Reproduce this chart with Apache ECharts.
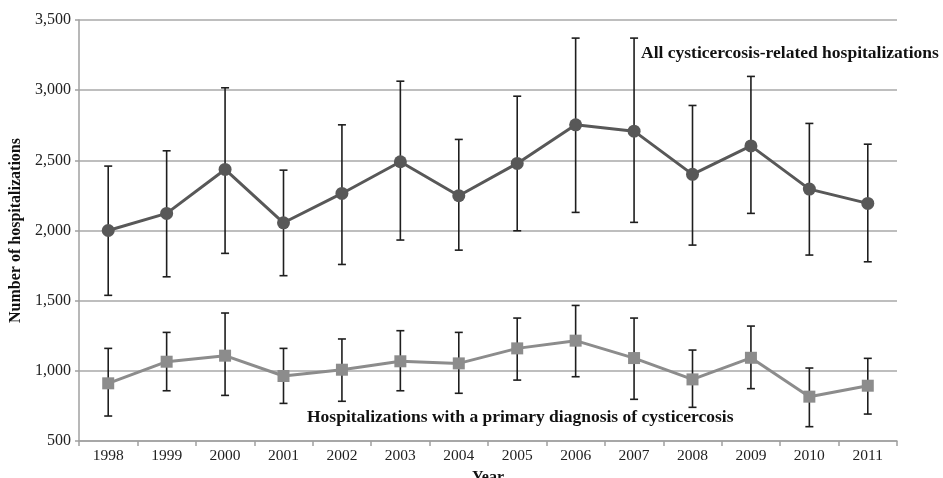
<!DOCTYPE html>
<html>
<head>
<meta charset="utf-8">
<script src="https://cdn.jsdelivr.net/npm/echarts@6/dist/echarts.min.js"></script>
<style>html,body{margin:0;padding:0;background:#fff}#c{width:943px;height:478px}</style>
</head>
<body>
<div id="c"></div>
<script>
var years = ['1998','1999','2000','2001','2002','2003','2004','2005','2006','2007','2008','2009','2010','2011'];
var allValues = [2000, 2122, 2435, 2055, 2264, 2490, 2248, 2478, 2753, 2708, 2400, 2603, 2295, 2193];
var allLow    = [1538, 1670, 1837, 1678, 1758, 1932, 1860, 1998, 2129, 2058, 1896, 2122, 1825, 1777];
var allHigh   = [2459, 2568, 3017, 2430, 2753, 3064, 2649, 2957, 3371, 3371, 2891, 3098, 2763, 2615];
var primValues = [911, 1065, 1108, 963, 1008, 1068, 1053, 1160, 1215, 1091, 939, 1093, 816, 894];
var primLow    = [678, 858, 825, 768, 783, 858, 840, 934, 958, 797, 740, 873, 602, 692];
var primHigh   = [1160, 1274, 1412, 1160, 1227, 1286, 1274, 1376, 1466, 1376, 1148, 1319, 1020, 1089];
var yTicks = [500, 1000, 1500, 2000, 2500, 3000, 3500];
var allLabel = 'All cysticercosis-related hospitalizations';
var primLabel = 'Hospitalizations with a primary diagnosis of cysticercosis';

var FONT = '"Liberation Serif", "Times New Roman", serif';

function errData(lo, hi) {
  return lo.map(function (v, i) { return [i, v, hi[i]]; });
}
function errRender(params, api) {
  var x = api.value(0);
  var lo = api.coord([x, api.value(1)]);
  var hi = api.coord([x, api.value(2)]);
  var hw = 4;
  var st = { stroke: '#1e1e1e', lineWidth: 1.6 };
  return {
    type: 'group',
    children: [
      { type: 'line', shape: { x1: lo[0], y1: lo[1], x2: hi[0], y2: hi[1] }, style: st },
      { type: 'line', shape: { x1: lo[0] - hw, y1: lo[1], x2: lo[0] + hw, y2: lo[1] }, style: st },
      { type: 'line', shape: { x1: hi[0] - hw, y1: hi[1], x2: hi[0] + hw, y2: hi[1] }, style: st }
    ]
  };
}

var chart = echarts.init(document.getElementById('c'), null, { renderer: 'canvas' });
chart.setOption({
  animation: false,
  backgroundColor: '#fff',
  textStyle: { fontFamily: FONT },
  grid: { left: 79, right: 46, top: 20, bottom: 37, containLabel: false, outerBoundsMode: 'none' },
  xAxis: {
    type: 'category',
    data: years,
    boundaryGap: true,
    name: 'Year',
    nameLocation: 'middle',
    nameGap: 29,
    nameTextStyle: { fontFamily: FONT, fontWeight: 'bold', fontSize: 16, color: '#111' },
    axisLine: { lineStyle: { color: '#a0a0a0', width: 1.5 } },
    axisTick: { show: true, alignWithLabel: false, length: 5, lineStyle: { color: '#a0a0a0', width: 1.5 } },
    axisLabel: { fontFamily: FONT, fontSize: 15.5, color: '#222', margin: 7 },
    splitLine: { show: false }
  },
  yAxis: {
    type: 'value',
    min: yTicks[0],
    max: yTicks[yTicks.length - 1],
    interval: 500,
    name: 'Number of hospitalizations',
    nameLocation: 'middle',
    nameGap: 52,
    nameTextStyle: { fontFamily: FONT, fontWeight: 'bold', fontSize: 16, color: '#111' },
    axisLine: { show: true, lineStyle: { color: '#a0a0a0', width: 1.5 } },
    axisTick: { show: true, length: 4, lineStyle: { color: '#a0a0a0', width: 1.5 } },
    axisLabel: {
      fontFamily: FONT, fontSize: 16, color: '#222', margin: 8,
      formatter: function (v) { return v.toLocaleString('en-US'); }
    },
    splitLine: { show: true, lineStyle: { color: '#a8a8a8', width: 1.5 } }
  },
  series: [
    {
      type: 'custom', name: 'allErr', renderItem: errRender,
      data: errData(allLow, allHigh), z: 2, silent: true,
      encode: { x: 0, y: [1, 2] }
    },
    {
      type: 'custom', name: 'primErr', renderItem: errRender,
      data: errData(primLow, primHigh), z: 2, silent: true,
      encode: { x: 0, y: [1, 2] }
    },
    {
      type: 'line', name: allLabel, data: allValues, z: 3,
      symbol: 'circle', symbolSize: 13,
      lineStyle: { color: '#585858', width: 3 },
      itemStyle: { color: '#585858' }
    },
    {
      type: 'line', name: primLabel, data: primValues, z: 3,
      symbol: 'rect', symbolSize: 12,
      lineStyle: { color: '#8c8c8c', width: 3 },
      itemStyle: { color: '#8c8c8c' }
    }
  ],
  graphic: [
    {
      type: 'text', left: 641, top: 44,
      style: { text: allLabel, font: 'bold 17.5px ' + FONT, fill: '#111' }
    },
    {
      type: 'text', left: 307, top: 408,
      style: { text: primLabel, font: 'bold 17.5px ' + FONT, fill: '#111' }
    }
  ]
});
</script>
</body>
</html>
